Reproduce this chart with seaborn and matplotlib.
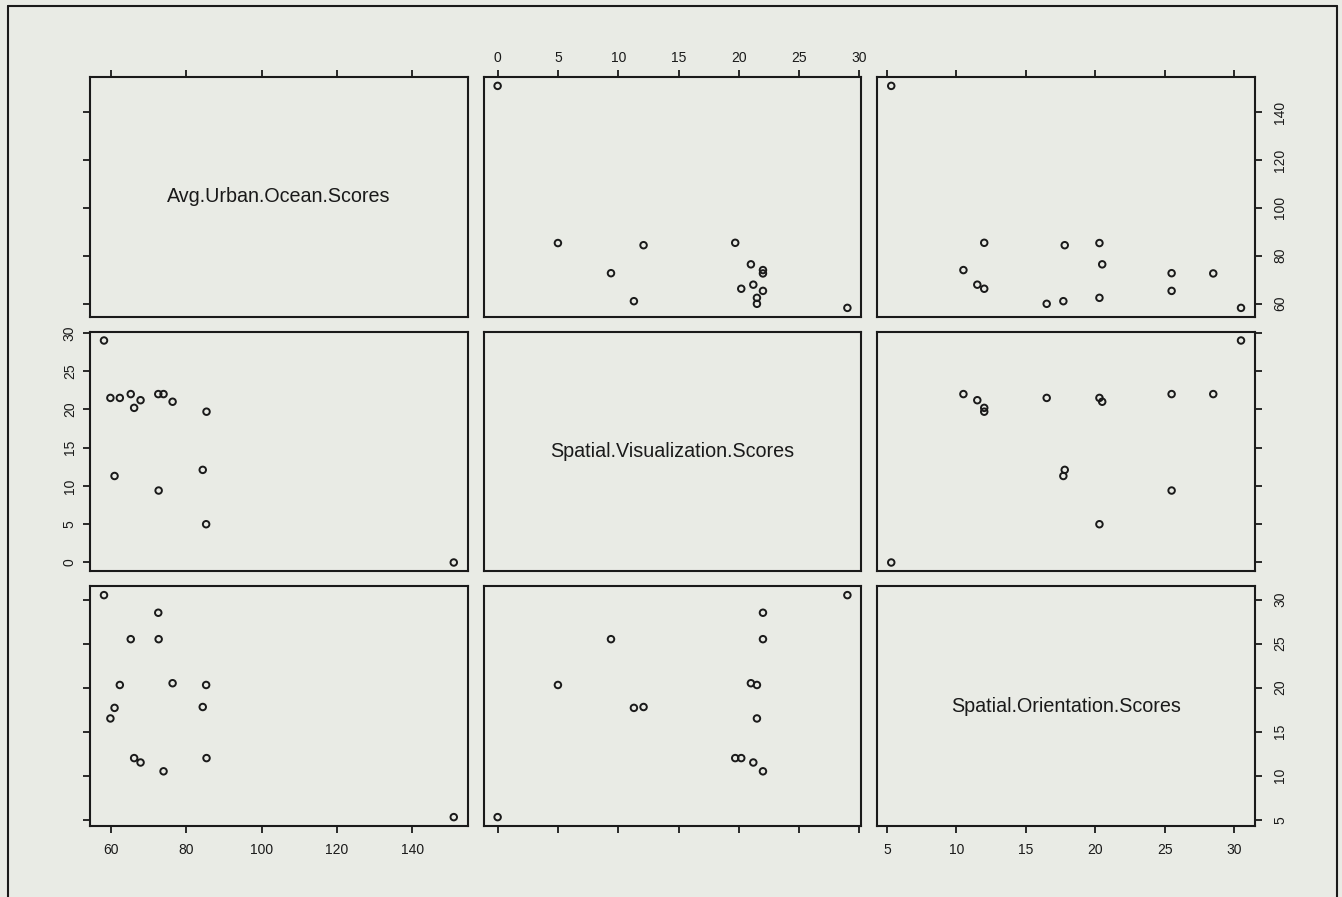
import matplotlib
matplotlib.use("Agg")
import matplotlib.pyplot as plt
from matplotlib.lines import Line2D
import numpy as np
import pandas as pd
import seaborn as sns

# Scores for the 15 subjects
avg_urban_ocean = [58.2, 59.9, 61.0, 62.4, 65.3, 66.2, 67.9, 72.6, 72.7, 74.0,
                   76.4, 84.4, 85.4, 85.3, 151.0]
spatial_visualization = [29.0, 21.5, 11.3, 21.5, 22.0, 20.2, 21.2, 22.0, 9.4, 22.0,
                         21.0, 12.1, 19.7, 5.0, 0.0]
spatial_orientation = [30.5, 16.5, 17.7, 20.3, 25.5, 12.0, 11.5, 28.5, 25.5, 10.5,
                       20.5, 17.8, 12.0, 20.3, 5.3]

var_names = ["Avg.Urban.Ocean.Scores",
             "Spatial.Visualization.Scores",
             "Spatial.Orientation.Scores"]
tick_values = [
    [60, 80, 100, 120, 140],
    [0, 5, 10, 15, 20, 25, 30],
    [5, 10, 15, 20, 25, 30],
]

df = pd.DataFrame({
    var_names[0]: avg_urban_ocean,
    var_names[1]: spatial_visualization,
    var_names[2]: spatial_orientation,
})

bg = "#e9ebe5"
ink = "#1a1a1a"

sns.set_theme(style="white")
plt.rcParams["font.family"] = ["Liberation Sans", "DejaVu Sans"]
plt.rcParams["axes.facecolor"] = bg
plt.rcParams["figure.facecolor"] = bg
plt.rcParams["axes.edgecolor"] = ink
plt.rcParams["axes.linewidth"] = 1.5

g = sns.PairGrid(df, vars=var_names, despine=False, height=3, aspect=1.5)
g.map_offdiag(sns.scatterplot, s=22, facecolors="none", edgecolor=ink,
              linewidth=1.4)

fig = g.figure
fig.set_size_inches(13.42, 8.97)
fig.subplots_adjust(left=90 / 1342, right=1255 / 1342,
                    top=1 - 77 / 897, bottom=1 - 826 / 897,
                    wspace=0.042, hspace=0.062)

n = len(var_names)

# R-style range: data range padded by 4% on each side
limits = []
for name in var_names:
    lo, hi = df[name].min(), df[name].max()
    pad = 0.04 * (hi - lo)
    limits.append((lo - pad, hi + pad))

for j in range(n):
    g.axes[0, j].set_xlim(limits[j])
    g.axes[0, j].set_xticks(tick_values[j])
for i in range(n):
    g.axes[i, 0].set_ylim(limits[i])
    g.axes[i, 0].set_yticks(tick_values[i])

for i in range(n):
    for j in range(n):
        ax = g.axes[i, j]
        ax.set_xlabel("")
        ax.set_ylabel("")
        ax.set_facecolor(bg)
        for sp in ax.spines.values():
            sp.set_visible(True)
            sp.set_color(ink)
            sp.set_linewidth(1.5)
        top = i == 0
        bottom = i == n - 1
        left = j == 0
        right = j == n - 1
        ax.tick_params(axis="x", which="both", direction="out", length=5,
                       width=1.3, color=ink, labelcolor=ink, labelsize=10,
                       top=top, bottom=bottom,
                       labeltop=top and j % 2 == 1,
                       labelbottom=bottom and j % 2 == 0,
                       pad=3.5 if top else 7)
        ax.tick_params(axis="y", which="both", direction="out", length=5,
                       width=1.3, color=ink, labelcolor=ink, labelsize=10,
                       left=left, right=right,
                       labelleft=left and i % 2 == 1,
                       labelright=right and i % 2 == 0,
                       pad=4.5 if left else 8)
        for lab in ax.get_yticklabels(which="both"):
            lab.set_rotation(90)
            lab.set_va("center")
        if i == j:
            ax.text(0.5, 0.5, var_names[i], transform=ax.transAxes,
                    ha="center", va="center", fontsize=14.2, color=ink)

# page frame
for xs, ys in [((8 / 1342, 8 / 1342), (0, 1 - 6 / 897)),
               ((8 / 1342, 1337 / 1342), (1 - 6 / 897, 1 - 6 / 897)),
               ((1337 / 1342, 1337 / 1342), (0, 1 - 6 / 897))]:
    fig.add_artist(Line2D(xs, ys, transform=fig.transFigure, color=ink,
                          linewidth=1.5))

fig.savefig("out.png", dpi=100, facecolor=bg)
